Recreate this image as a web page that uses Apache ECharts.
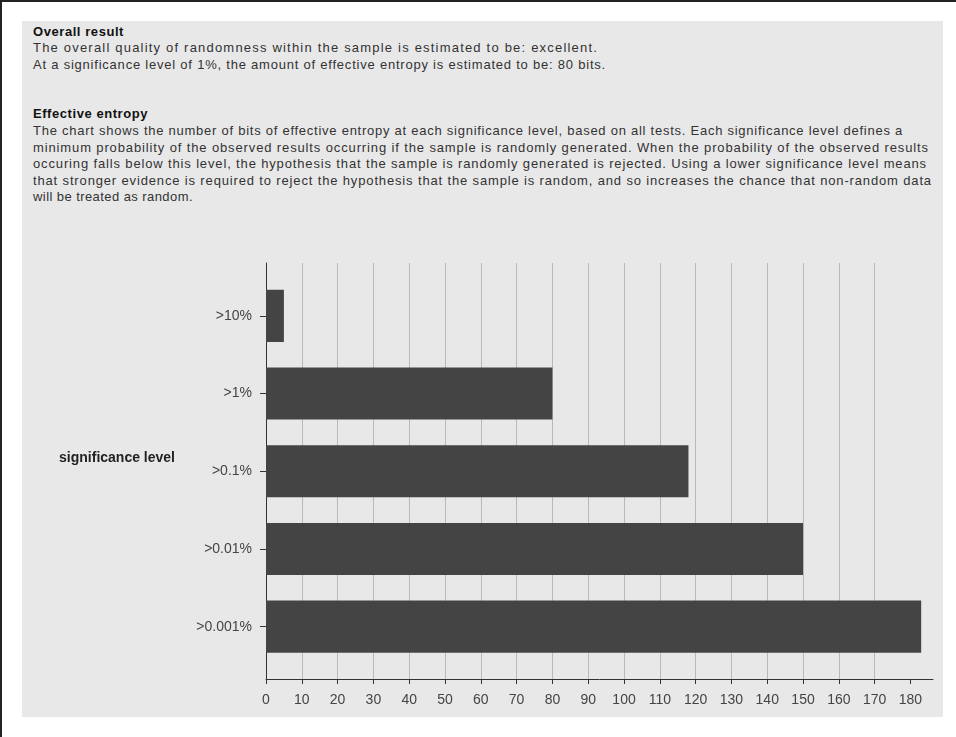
<!DOCTYPE html>
<html>
<head>
<meta charset="utf-8">
<script src="https://cdn.jsdelivr.net/npm/echarts@6/dist/echarts.min.js"></script>
<style>
  html, body { margin: 0; padding: 0; background: #fff; }
  .page {
    position: relative;
    width: 956px;
    height: 737px;
    overflow: hidden;
    border-left: 2px solid #222;
    border-top: 2px solid #222;
    box-sizing: border-box;
  }
  .panel {
    position: absolute;
    left: 20px;
    top: 19px;
    width: 921px;
    height: 696px;
    background: #e8e8e8;
  }
  .report {
    position: absolute;
    left: 31px;
    top: 21.5px;
    width: 915px;
    font-family: "Liberation Sans", Arial, sans-serif;
    font-size: 13px;
    line-height: 16.6px;
    color: #333;
  }
  .report .ln { white-space: nowrap; }
  .report .ln span { display: inline-block; }
  .report .h { font-weight: bold; color: #111; }
  .report .gap { height: 33.2px; }
  #chart {
    position: absolute;
    left: -2px;
    top: -2px;
    width: 956px;
    height: 737px;
  }
</style>
</head>
<body>
<div class="page">
  <div class="panel"></div>
  <!-- each line is stretched to the width it has in the original report -->
  <div class="report">
    <div class="ln h"><span data-w="91">Overall result</span></div>
    <div class="ln"><span data-w="565">The overall quality of randomness within the sample is estimated to be: excellent.</span></div>
    <div class="ln"><span data-w="573">At a significance level of 1%, the amount of effective entropy is estimated to be: 80 bits.</span></div>
    <div class="gap"></div>
    <div class="ln h"><span data-w="115">Effective entropy</span></div>
    <div class="ln"><span data-w="870">The chart shows the number of bits of effective entropy at each significance level, based on all tests. Each significance level defines a</span></div>
    <div class="ln"><span data-w="896">minimum probability of the observed results occurring if the sample is randomly generated. When the probability of the observed results</span></div>
    <div class="ln"><span data-w="894">occuring falls below this level, the hypothesis that the sample is randomly generated is rejected. Using a lower significance level means</span></div>
    <div class="ln"><span data-w="899">that stronger evidence is required to reject the hypothesis that the sample is random, and so increases the chance that non-random data</span></div>
    <div class="ln"><span data-w="160">will be treated as random.</span></div>
  </div>
  <div id="chart"></div>
</div>
<script>
// significance levels, top to bottom
const levels = ['>10%', '>1%', '>0.1%', '>0.01%', '>0.001%']
// bits of effective entropy
const bits = [5, 80, 118, 150, 183]
const xTicks = [0, 10, 20, 30, 40, 50, 60, 70, 80, 90, 100, 110, 120, 130, 140, 150, 160, 170, 180]
const xMax = 186.3

// widen the report lines the way the old renderer did
document.querySelectorAll('.report span[data-w]').forEach(el => {
  const target = +el.dataset.w
  const natural = el.getBoundingClientRect().width
  const n = el.textContent.length
  el.style.letterSpacing = ((target - natural) / n).toFixed(3) + 'px'
})

const chart = echarts.init(document.getElementById('chart'), null, { renderer: 'canvas' })

const font = '"Liberation Sans", Arial, sans-serif'

chart.setOption({
  animation: false,
  backgroundColor: 'transparent',
  grid: [
    // plot frame: axes + gridlines
    { left: 266, top: 263, width: 667, height: 416, containLabel: false },
    // category bands (inset like the original's axis margins)
    { left: 266, top: 277, width: 667, height: 388.5, containLabel: false },
  ],
  xAxis: [
    {
      type: 'value',
      gridIndex: 0,
      min: 0,
      max: xMax,
      interval: 10,
      axisLine: { show: true, onZero: false, lineStyle: { color: '#333', width: 1 } },
      axisTick: { show: true, length: 5, customValues: xTicks, lineStyle: { color: '#333' } },
      axisLabel: {
        customValues: xTicks,
        margin: 14,
        color: '#444',
        fontSize: 14,
        fontFamily: font,
      },
      splitLine: {
        show: true,
        showMinLine: false,
        showMaxLine: false,
        lineStyle: { color: '#b8b8b8', width: 1 },
      },
    },
    { type: 'value', gridIndex: 1, min: 0, max: xMax, show: false },
  ],
  yAxis: [
    {
      type: 'value',
      gridIndex: 0,
      min: 0,
      max: 1,
      axisLine: { show: true, onZero: false, lineStyle: { color: '#333', width: 1 } },
      axisTick: { show: false },
      axisLabel: { show: false },
      splitLine: { show: false },
    },
    {
      type: 'category',
      gridIndex: 1,
      inverse: true,
      data: levels,
      name: 'significance level',
      nameLocation: 'middle',
      nameRotate: 0,
      nameGap: 91,
      nameTextStyle: {
        fontFamily: font,
        fontSize: 14,
        fontWeight: 'bold',
        color: '#222',
        verticalAlign: 'bottom',
        lineHeight: 26,
      },
      axisLine: { show: false },
      axisTick: { show: true, alignWithLabel: true, length: 6, lineStyle: { color: '#333' } },
      axisLabel: { margin: 14, color: '#444', fontSize: 14, fontFamily: font },
      splitLine: { show: false },
    },
  ],
  series: [
    {
      type: 'bar',
      xAxisIndex: 1,
      yAxisIndex: 1,
      data: bits,
      barCategoryGap: '33%',
      itemStyle: { color: '#444444' },
      silent: true,
    },
  ],
})
</script>
</body>
</html>
